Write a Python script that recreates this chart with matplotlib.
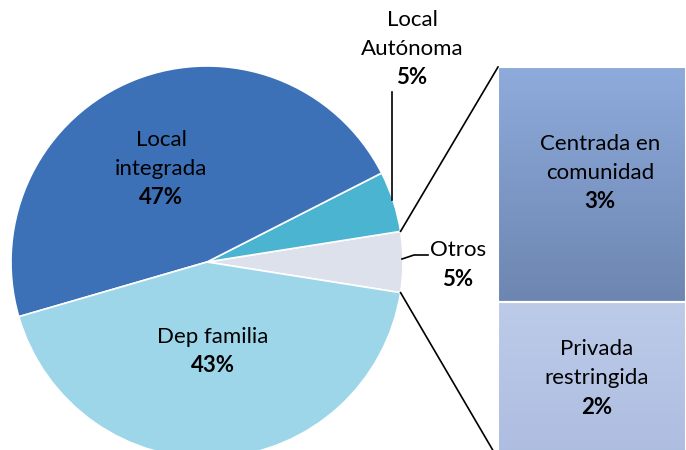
import numpy as np
import matplotlib
matplotlib.use("Agg")
import matplotlib.pyplot as plt
from matplotlib.colors import LinearSegmentedColormap

# pie data (Otros is split into the bar)
pie_labels = ["Otros", "Local\nAutónoma", "Local\nintegrada", "Dep familia"]
pie_values = [5, 5, 47, 43]
pie_colors = ["#dde1eb", "#4ab4d1", "#3c71b8", "#9dd6e9"]

bar_labels = ["Privada\nrestringida", "Centrada en\ncomunidad"]
bar_values = [2, 3]
# (top colour, bottom colour) of each segment
bar_colors = [("#bdcbe9", "#adbde0"), ("#8eabdc", "#6d86b1")]

plt.rcParams['font.family'] = ['Lato', 'DejaVu Sans']

W, H = 686, 450
fig = plt.figure(figsize=(W / 100, H / 100), dpi=100)
ax = fig.add_axes([0, 0, 1, 1])
ax.set_zorder(2)
ax.patch.set_visible(False)

# pixel coordinate frame, y up
cx, cy, r = 207, 188, 196
start = -pie_values[0] / 100 * 360 / 2
wedges, _ = ax.pie(pie_values, colors=pie_colors, center=(cx, cy), radius=r,
                   startangle=start, counterclock=True, frame=True,
                   wedgeprops=dict(edgecolor="white", linewidth=1.2))
ax.set_xlim(0, W)
ax.set_ylim(0, H)
ax.set_aspect("auto")
ax.axis("off")

# bar of the split slice
bx0, bx1 = 498, 686
btop, bbot = H - 67, H - 459
bax = fig.add_axes([bx0 / W, bbot / H, (bx1 - bx0) / W, (btop - bbot) / H])
bax.set_zorder(1)
bottom = 0
for v, (ctop, cbot) in zip(bar_values, bar_colors):
    bars = bax.bar(0, v, bottom=bottom, width=1, color=cbot, edgecolor="white", linewidth=1.5)
    cmap = LinearSegmentedColormap.from_list("g", [cbot, ctop])
    grad = np.linspace(0, 1, 100).reshape(-1, 1)
    im = bax.imshow(grad, cmap=cmap, aspect="auto", origin="lower",
                    extent=(-0.5, 0.5, bottom, bottom + v), zorder=2)
    im.set_clip_path(bars[0])
    bax.bar(0, v, bottom=bottom, width=1, color="none", edgecolor="white", linewidth=1.5, zorder=3)
    bottom += v
bax.set_xlim(-0.5, 0.5)
bax.set_ylim(0, sum(bar_values))
bax.axis("off")

# connector lines from slice edge to bar corners
half = np.deg2rad(-start)
p_top = (cx + r * np.cos(half), cy + r * np.sin(half))
p_bot = (cx + r * np.cos(-half), cy + r * np.sin(-half))
ax.plot([p_top[0], bx0], [p_top[1], btop], color="black", lw=1.2)
ax.plot([p_bot[0], bx0], [p_bot[1], bbot], color="black", lw=1.2)

# labels: name lines + bold percent, 29 px line pitch
def lbl(x, y_first, name, val):
    lines = name.split("\n")
    for i, t in enumerate(lines):
        ax.text(x, H - (y_first + 29 * i), t, ha="center", va="center", fontsize=16)
    ax.text(x, H - (y_first + 29 * len(lines)), "%d%%" % val,
            ha="center", va="center", fontsize=16, fontweight="bold")

lbl(161, 140, pie_labels[2], pie_values[2])
lbl(213, 337, pie_labels[3], pie_values[3])
lbl(412, 20, pie_labels[1], pie_values[1])
lbl(458, 250, pie_labels[0], pie_values[0])
lbl(600, 144, bar_labels[1], bar_values[1])
lbl(597, 349, bar_labels[0], bar_values[0])

# leader lines
ax.plot([392, 392], [H - 92, H - 200], color="black", lw=1.2)
ax.plot([402, 414, 428], [H - 259, H - 255, H - 255], color="black", lw=1.2)

fig.savefig("out.png", dpi=100)
